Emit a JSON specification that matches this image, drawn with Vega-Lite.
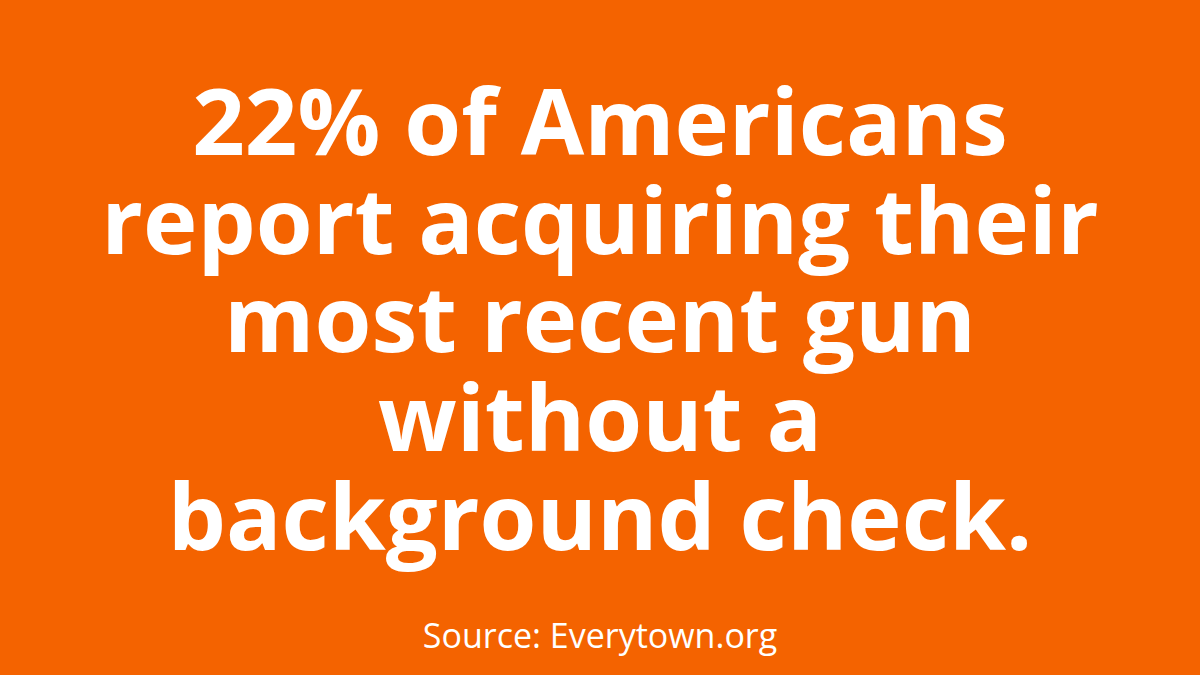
{
  "$schema": "https://vega.github.io/schema/vega-lite/v6.json",
  "autosize": {"type": "fit", "contains": "padding"},
  "width": 1200,
  "height": 675,
  "padding": 0,
  "background": "#F46300",
  "config": {"view": {"stroke": null}},
  "data": {
    "values": [
      {"line": 1, "text": "22% of Americans", "kind": "head"},
      {"line": 2, "text": "report acquiring their", "kind": "head"},
      {"line": 3, "text": "most recent gun", "kind": "head"},
      {"line": 4, "text": "without a", "kind": "head"},
      {"line": 5, "text": "background check.", "kind": "head"},
      {"line": 6, "text": "Source: Everytown.org", "kind": "source"}
    ]
  },
  "encoding": {
    "x": {"datum": 0.5, "type": "quantitative", "scale": {"domain": [0, 1]}, "axis": null},
    "y": {"field": "line", "type": "quantitative", "scale": {"domain": [-0.57, 6.27], "reverse": true, "nice": false, "zero": false}, "axis": null},
    "text": {"field": "text"}
  },
  "layer": [
    {
      "transform": [{"filter": "datum.kind === 'head'"}],
      "mark": {"type": "text", "font": "Open Sans", "fontWeight": "bold", "fontSize": 92, "color": "white", "align": "center", "baseline": "alphabetic"}
    },
    {
      "transform": [{"filter": "datum.kind === 'source'"}],
      "mark": {"type": "text", "font": "Open Sans", "fontWeight": "normal", "fontSize": 34, "color": "white", "align": "center", "baseline": "alphabetic"}
    }
  ]
}
